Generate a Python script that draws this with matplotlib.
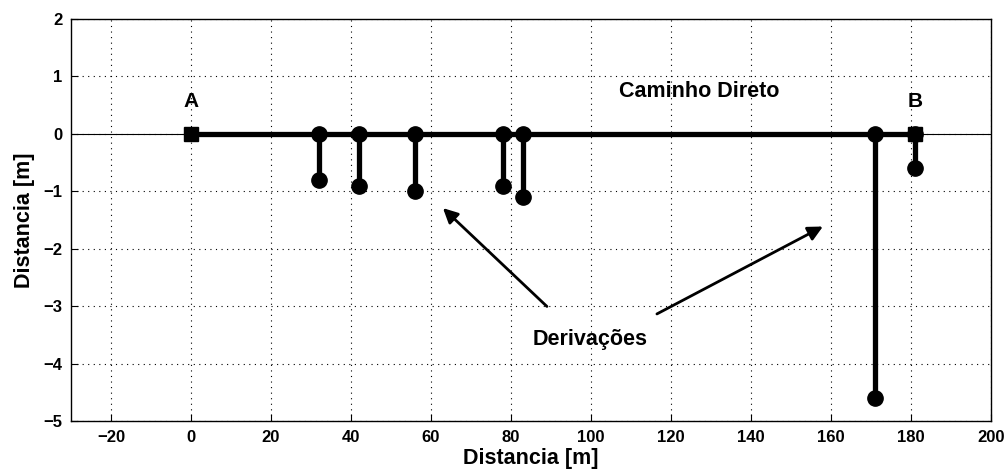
import matplotlib
matplotlib.use("Agg")
import matplotlib.pyplot as plt

# Data
endpoints_x = [0, 181]
endpoints_y = [0, 0]
endpoint_labels = ["A", "B"]
stem_x = [32, 42, 56, 78, 83, 171, 181]
stem_y = [-0.8, -0.9, -1.0, -0.9, -1.1, -4.6, -0.6]
xticks = [-20, 0, 20, 40, 60, 80, 100, 120, 140, 160, 180, 200]
yticks = [-5, -4, -3, -2, -1, 0, 1, 2]
arrow_tails = [(89, -3.0), (116.5, -3.13)]
arrow_heads = [(63, -1.29), (158, -1.61)]

plt.rcParams['font.family'] = ['Liberation Sans', 'DejaVu Sans']
plt.rcParams['font.weight'] = 'bold'

fig = plt.figure(figsize=(10.07, 4.72), dpi=100)
ax = fig.add_axes([0.0705, 0.107, 0.9135, 0.853])

ax.set_xlim(-30, 200)
ax.set_ylim(-5, 2)

# thin baseline across full axis
ax.axhline(0, color='black', lw=0.8, zorder=2)
# thick direct path
ax.plot(endpoints_x, endpoints_y, color='black', lw=3.8, zorder=3)

# stems
for x, y in zip(stem_x, stem_y):
    ax.plot([x, x], [0, y], color='black', lw=3.8, zorder=3)
ax.plot(stem_x, [0] * len(stem_x), 'o', color='black', ms=11, zorder=4)
ax.plot(stem_x, stem_y, 'o', color='black', ms=11, zorder=4)

# endpoints
ax.plot(endpoints_x, endpoints_y, 's', color='black', ms=10.5, zorder=5)
for x, lab in zip(endpoints_x, endpoint_labels):
    ax.text(x, 0.57, lab, ha='center', va='center', fontsize=15, fontweight='bold')

ax.text(127, 0.73, "Caminho Direto", ha='center', va='center', fontsize=15.5, fontweight='bold')
ax.text(99.7, -3.58, "Derivações", ha='center', va='center', fontsize=15.5, fontweight='bold')

for (tx, ty), (hx, hy) in zip(arrow_tails, arrow_heads):
    ax.annotate("", xy=(hx, hy), xytext=(tx, ty),
                arrowprops=dict(arrowstyle='-|>', color='black', lw=2,
                                mutation_scale=22, shrinkA=0, shrinkB=0))

ax.set_xticks(xticks)
ax.set_yticks(yticks)
ax.set_xticklabels([str(t).replace('-', '\u2212') for t in xticks])
ax.set_yticklabels([str(t).replace('-', '\u2212') for t in yticks])
ax.tick_params(direction='in', length=5, width=0.8, labelsize=12, pad=6)
for lab in ax.get_xticklabels() + ax.get_yticklabels():
    lab.set_fontweight('bold')
ax.grid(True, linestyle=(0, (1, 4)), color='black', lw=0.8)
ax.set_axisbelow(True)

for s in ax.spines.values():
    s.set_linewidth(1.0)

ax.set_xlabel("Distancia [m]", fontsize=15.5, fontweight='bold', labelpad=2)
ax.set_ylabel("Distancia [m]", fontsize=15.5, fontweight='bold', labelpad=6)

fig.savefig("out.png", dpi=100)
